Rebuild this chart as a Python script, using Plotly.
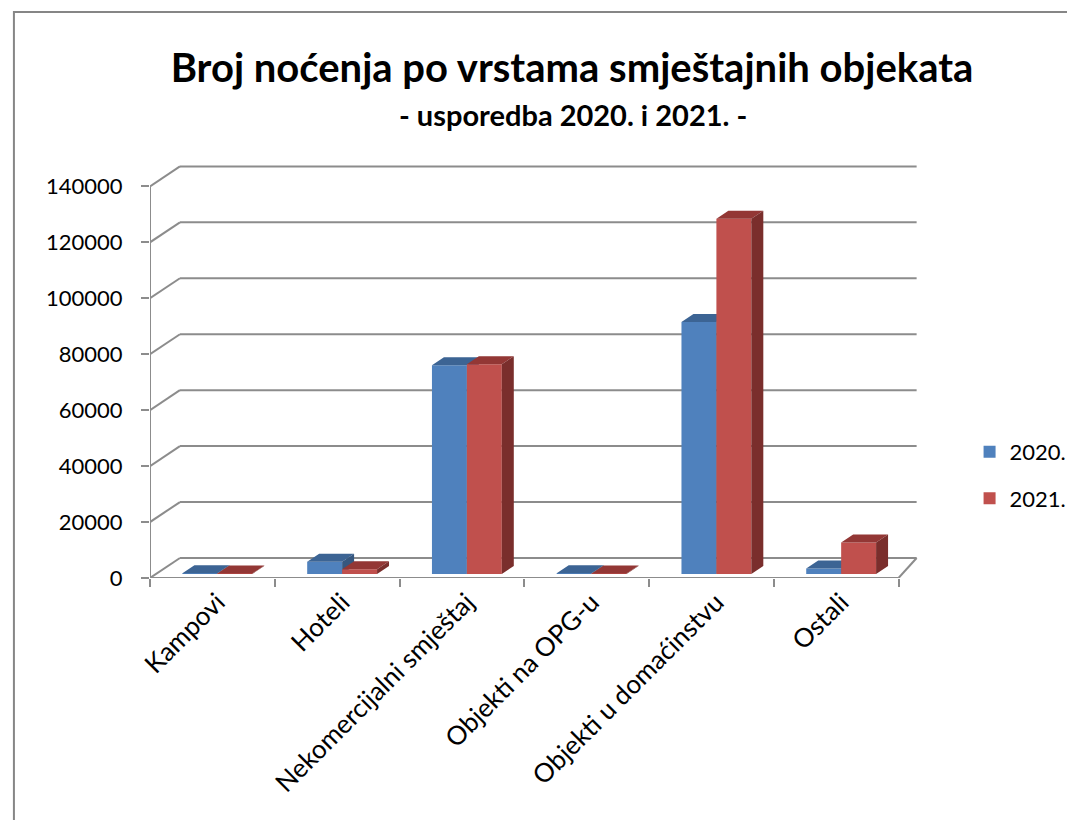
import plotly.graph_objects as go

# ---- data ----
categories = ["Kampovi", "Hoteli", "Nekomercijalni smještaj", "Objekti na OPG-u",
              "Objekti u domaćinstvu", "Ostali"]
values_2020 = [250, 4400, 74600, 250, 90100, 2000]
values_2021 = [150, 1700, 75000, 200, 127000, 11300]
series_names = ["2020.", "2021."]
y_ticks = [0, 20000, 40000, 60000, 80000, 100000, 120000, 140000]

# ---- pseudo-3D geometry (in axis units) ----
W = 0.28          # bar front width
BASE = 1430       # bar front bottom above floor front edge
BX, BY = 0.096, 2860   # bar depth offsets
WALL_LX, WALL_RX, WALL_Y = 0.24, 0.145, 7150  # back wall offsets
XMIN, XMAX = -0.5, 5.68
YMAX = 148000
LABEL_SHIFT = 0.04
GRID = "#8c8c8c"
FONT = "Lato"

n = len(categories)
idx = list(range(n))
x_2020 = [i - 0.10 for i in idx]
x_2021 = [i + 0.18 for i in idx]


def faces(xc, vals):
    tx, ty, sx, sy = [], [], [], []
    for x, v in zip(xc, vals):
        xl, xr, t = x - W / 2, x + W / 2, BASE + v
        tx += [xl, xr, xr + BX, xl + BX, xl, None]
        ty += [t, t, t + BY, t + BY, t, None]
        sx += [xr, xr, xr + BX, xr + BX, xr, None]
        sy += [BASE, t, t + BY, BASE + BY, BASE, None]
    return tx, ty, sx, sy


fig = go.Figure()

specs = [
    (series_names[0], x_2020, values_2020, "#4F81BD", "#3C6494", "#35577F", "x", "y"),
    (series_names[1], x_2021, values_2021, "#C0504D", "#933735", "#7A2E2C", "x2", "y2"),
]
for name, xc, vals, cf, ct, cs, xa, ya in specs:
    fig.add_trace(go.Bar(x=xc, y=vals, base=BASE, width=W, name=name,
                         marker=dict(color=cf, line=dict(width=0)),
                         legendgroup=name, xaxis=xa, yaxis=ya))
    tx, ty, sx, sy = faces(xc, vals)
    fig.add_trace(go.Scatter(x=tx, y=ty, fill="toself", fillcolor=ct, mode="lines",
                             line=dict(width=0, color=ct), showlegend=False,
                             legendgroup=name, hoverinfo="skip", xaxis=xa, yaxis=ya))
    fig.add_trace(go.Scatter(x=sx, y=sy, fill="toself", fillcolor=cs, mode="lines",
                             line=dict(width=0, color=cs), showlegend=False,
                             legendgroup=name, hoverinfo="skip", xaxis=xa, yaxis=ya))

shapes = []
line = dict(color=GRID, width=2)
for v in y_ticks:
    shapes.append(dict(type="line", xref="x", yref="y", x0=XMIN, y0=v,
                       x1=XMIN + WALL_LX, y1=v + WALL_Y, line=line, layer="below"))
    shapes.append(dict(type="line", xref="x", yref="y", x0=XMIN + WALL_LX, y0=v + WALL_Y,
                       x1=n - 0.5 + WALL_RX, y1=v + WALL_Y, line=line, layer="below"))
shapes.append(dict(type="line", xref="x", yref="y", x0=n - 0.5, y0=0,
                   x1=n - 0.5 + WALL_RX, y1=WALL_Y, line=line, layer="below"))
shapes.append(dict(type="line", xref="x", yref="y", x0=XMIN, y0=0, x1=n - 0.5, y1=0,
                   line=line, layer="below"))
shapes.append(dict(type="line", xref="x", yref="y", x0=XMIN, y0=0, x1=XMIN, y1=y_ticks[-1],
                   line=line, layer="below"))
shapes.append(dict(type="rect", xref="paper", yref="paper", x0=-0.1765, y0=-0.61,
                   x1=1.22, y1=1.367, line=dict(color="#868686", width=2),
                   fillcolor="rgba(0,0,0,0)", layer="below"))

FIG_W, FIG_H = 1067, 812   # page body adds an 8px margin
fig.update_layout(
    width=FIG_W, height=FIG_H,
    margin=dict(l=142, r=154, t=156, b=242, autoexpand=False),
    paper_bgcolor="white", plot_bgcolor="white",
    barmode="overlay",
    font=dict(family=FONT, color="black"),
    title=dict(text="<b>Broj noćenja po vrstama smještajnih objekata</b>",
               x=564 / FIG_W, xanchor="center", xref="container",
               y=1 - 60 / FIG_H, yanchor="middle", yref="container",
               font=dict(family=FONT, size=40, color="black")),
    annotations=[dict(text="<b>- usporedba 2020. i 2021. -</b>", xref="paper", yref="paper",
                      x=0.548, y=(578 - 115) / 414, xanchor="center", yanchor="middle",
                      showarrow=False, font=dict(family=FONT, size=29, color="black"))],
    shapes=shapes,
    showlegend=True,
    legend=dict(x=1.063, xanchor="left", y=0.248, yanchor="middle",
                font=dict(family=FONT, size=22, color="black"),
                traceorder="grouped", tracegroupgap=15, bgcolor="rgba(0,0,0,0)"),
    xaxis=dict(range=[XMIN, XMAX], tickmode="array",
               tickvals=[i + LABEL_SHIFT for i in idx], ticktext=categories,
               tickangle=-45, ticks="", showgrid=False, zeroline=False, showline=False,
               automargin=False,
               tickfont=dict(family=FONT, size=26, color="black"), ticklabelstandoff=3),
    xaxis2=dict(range=[XMIN, XMAX], overlaying="x", anchor="y2", side="bottom",
                tickmode="array", tickvals=[i - 0.5 for i in range(n + 1)],
                ticks="outside", ticklen=8, tickwidth=2, tickcolor=GRID, automargin=False,
                showticklabels=False, showgrid=False, zeroline=False, showline=False),
    yaxis=dict(range=[0, YMAX], tickmode="array", tickvals=y_ticks,
               ticktext=[str(v) for v in y_ticks], ticks="outside", ticklen=8,
               tickwidth=2, tickcolor=GRID, showgrid=False, zeroline=False, showline=False,
               automargin=False,
               tickfont=dict(family=FONT, size=22, color="black"), ticklabelstandoff=14),
    yaxis2=dict(range=[0, YMAX], overlaying="y", visible=False, automargin=False),
)

fig.write_html("out.html")
